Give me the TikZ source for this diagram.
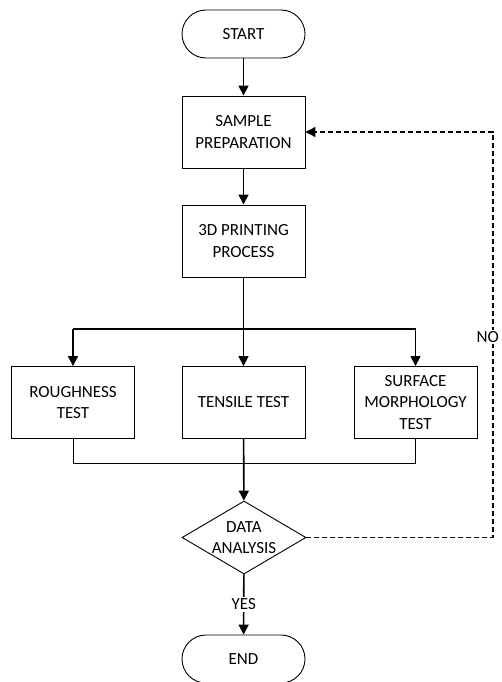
\documentclass[tikz,border=0pt]{standalone}
\usepackage{fontspec}
\setmainfont{Carlito}
\usetikzlibrary{shapes.geometric,arrows.meta}
\begin{document}
\begin{tikzpicture}[x=1pt,y=-1pt,
  every node/.style={font=\fontsize{17}{21.5}\selectfont, align=center, inner sep=0pt},
  term/.style={draw, line width=0.9pt, rounded corners=24pt, minimum width=123pt, minimum height=48pt},
  procbox/.style={draw, line width=0.9pt, minimum width=123pt, minimum height=72pt},
  decbox/.style={draw, line width=0.9pt, diamond, aspect=1.7, minimum width=124pt, minimum height=73pt},
  flow/.style={line width=1.6pt, -{Triangle[length=10pt,width=10pt]}},
  branch/.style={line width=1.4pt},
  plain/.style={line width=1.0pt},
  back/.style={line width=1.1pt, dash pattern=on 5pt off 3pt, -{Triangle[length=10pt,width=10pt]}}
]
\useasboundingbox (0,0) rectangle (501,682);
\node[term] (start) at (243.5,34) {START};
\node[procbox] (prep) at (243.5,132) {SAMPLE\\PREPARATION};
\node[procbox] (print) at (243.5,241) {3D PRINTING\\PROCESS};
\node[procbox] (rough) at (73,402.5) {ROUGHNESS\\TEST};
\node[procbox] (tens) at (243.5,402.5) {TENSILE TEST};
\node[procbox] (surf) at (415.5,402.5) {SURFACE\\MORPHOLOGY\\TEST};
\node[decbox] (data) at (244,537.5) {DATA\\ANALYSIS};
\node[term] (end) at (243.5,659) {END};
\coordinate (bl) at (73,329);
\coordinate (br) at (415.5,329);
\coordinate (ml) at (73,463);
\coordinate (mr) at (415.5,463);
\coordinate (dr) at (493,537.5);
\coordinate (ur) at (493,132);
\draw[flow] (start) -- (prep);
\draw[flow] (prep) -- (print);
\draw[flow] (print) -- (tens);
\draw[branch] (bl) -- (br);
\draw[flow] (bl) -- (rough);
\draw[flow] (br) -- (surf);
\draw[plain] (rough.south) -- (ml) -- (mr) -- (surf.south);
\draw[flow] (tens) -- (data);
\draw[flow] (data) -- node[fill=white, inner sep=2pt] {YES} (end);
\draw[back] (data.east) -- (dr) -- (ur) -- (prep.east);
\node[anchor=east, fill=white, inner sep=1pt] (no) at (500,337) {NO};
\end{tikzpicture}
\end{document}
